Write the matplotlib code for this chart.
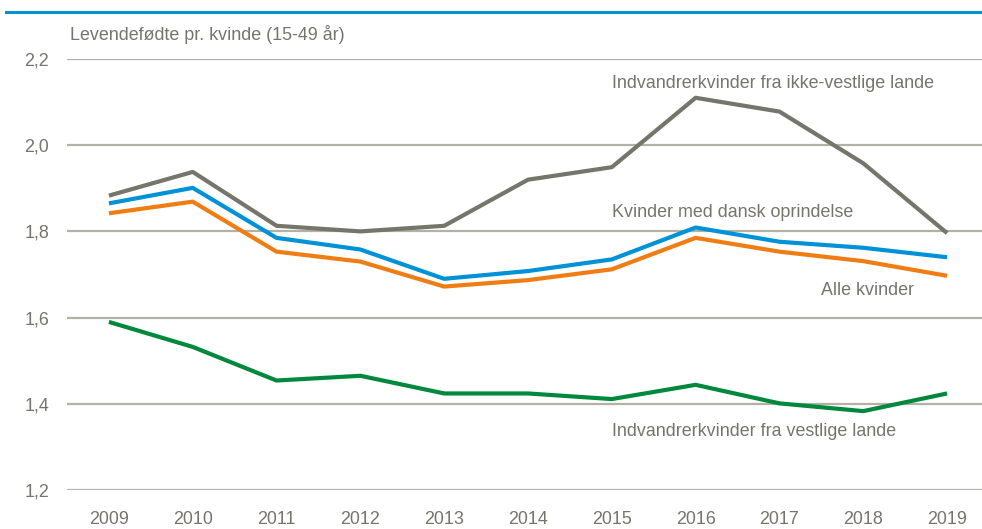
import matplotlib
matplotlib.use("Agg")
import matplotlib.pyplot as plt
from matplotlib.ticker import FuncFormatter

plt.rcParams['font.family'] = ['Liberation Sans Narrow', 'Liberation Sans', 'DejaVu Sans']

# Levendefoedte pr. kvinde, aflaest fra figuren
years = ['2009', '2010', '2011', '2012', '2013', '2014', '2015', '2016', '2017', '2018', '2019']
ikke_vestlige = [1.883, 1.938, 1.813, 1.800, 1.813, 1.920, 1.949, 2.110, 2.078, 1.958, 1.796]
dansk = [1.865, 1.901, 1.785, 1.758, 1.690, 1.708, 1.735, 1.809, 1.776, 1.762, 1.740]
alle = [1.842, 1.869, 1.753, 1.730, 1.672, 1.687, 1.712, 1.785, 1.753, 1.731, 1.697]
vestlige = [1.590, 1.532, 1.454, 1.465, 1.424, 1.424, 1.411, 1.444, 1.401, 1.383, 1.424]
yticks = [1.2, 1.4, 1.6, 1.8, 2.0, 2.2]

txt = '#77756b'
grid = '#b3b0a4'

W, H = 982, 529
fig = plt.figure(figsize=(W / 100, H / 100), dpi=100)
# axes extends a bit past the right edge, like the original
ax = fig.add_axes([67 / W, (H - 490) / H, 922 / W, 431 / H])

x = list(range(len(years)))
ax.plot(x, ikke_vestlige, color='#75756b', lw=3, solid_capstyle='butt', zorder=3)
ax.plot(x, vestlige, color='#00893d', lw=3, solid_capstyle='butt', zorder=3)
ax.plot(x, alle, color='#f07d14', lw=3, solid_capstyle='butt', zorder=4)
ax.plot(x, dansk, color='#0092d6', lw=3, solid_capstyle='butt', zorder=5)

fs = 12.9
ax.set_xlim(-0.5, len(years) - 0.5)
ax.set_ylim(1.2, 2.2)
ax.set_yticks(yticks)
ax.yaxis.set_major_formatter(FuncFormatter(lambda v, p: f'{v:.1f}'.replace('.', ',')))
ax.set_xticks(x)
ax.set_xticklabels(years)
ax.grid(axis='y', color=grid, lw=1.6)
ax.set_axisbelow(True)
for s in ax.spines.values():
    s.set_visible(False)
ax.tick_params(length=0, colors=txt, labelsize=fs)
ax.tick_params(axis='y', pad=13)
ax.tick_params(axis='x', pad=15)

ax.text(-0.47, 2.258, 'Levendefødte pr. kvinde (15-49 år)', color=txt, fontsize=fs,
        ha='left', va='center', clip_on=False)
ax.text(6.0, 2.142, 'Indvandrerkvinder fra ikke-vestlige lande', color=txt, fontsize=fs,
        ha='left', va='center')
ax.text(6.0, 1.845, 'Kvinder med dansk oprindelse', color=txt, fontsize=fs,
        ha='left', va='center')
ax.text(8.5, 1.664, 'Alle kvinder', color=txt, fontsize=fs, ha='left', va='center')
ax.text(6.0, 1.335, 'Indvandrerkvinder fra vestlige lande', color=txt, fontsize=fs,
        ha='left', va='center')

# blue rule across the top
fig.add_artist(plt.Line2D([6 / W, 1], [(H - 12) / H] * 2, color='#0093d3', lw=2.2))

fig.savefig('out.png', dpi=100)
